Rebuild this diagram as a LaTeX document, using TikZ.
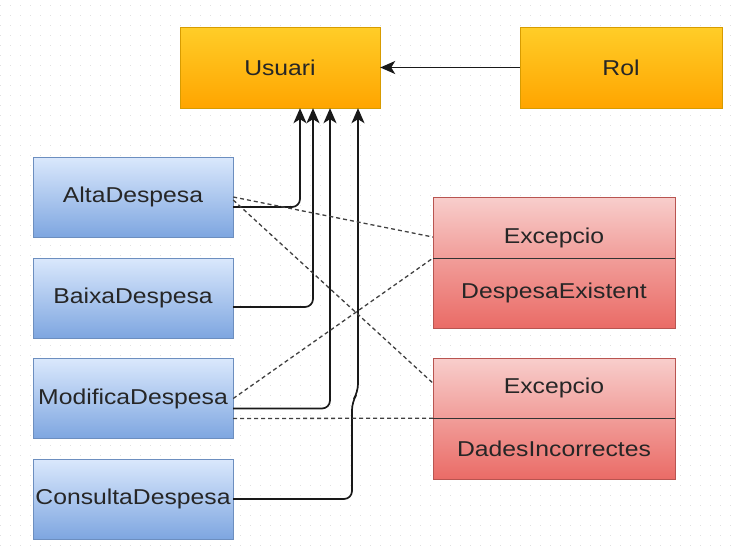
\documentclass[tikz,border=0pt]{standalone}
\usepackage{fontspec}
\newfontfamily\boxfont[FakeStretch=1.15]{Liberation Sans}
\usetikzlibrary{arrows.meta}
\usetikzlibrary{calc}

\definecolor{orTop}{HTML}{FFCD28}
\definecolor{orBot}{HTML}{FFA500}
\definecolor{orLine}{HTML}{D79B00}
\definecolor{blTop}{HTML}{DAE8FC}
\definecolor{blBot}{HTML}{7EA6E0}
\definecolor{blLine}{HTML}{6C8EBF}
\definecolor{rdTop}{HTML}{F8CECC}
\definecolor{rdMid}{HTML}{F19D99}
\definecolor{rdBot}{HTML}{EA6B66}
\definecolor{rdLine}{HTML}{B85450}

\begin{document}
\begin{tikzpicture}[x=1pt,y=-1pt,
	box/.style={rectangle, inner sep=0pt, font=\boxfont\fontsize{21.5}{24}\selectfont, text=black!85},
	rolbox/.style={box, minimum height=81pt, top color=orTop, bottom color=orBot, draw=orLine},
	casbox/.style={box, minimum width=200pt, minimum height=80pt, top color=blTop, bottom color=blBot, draw=blLine},
	exctop/.style={box, minimum width=242pt, top color=rdTop, bottom color=rdMid, draw=rdLine},
	excbot/.style={box, minimum width=242pt, anchor=north, top color=rdMid, bottom color=rdBot, draw=rdLine},
	tip/.style={-{Stealth[length=15pt,width=13pt,inset=4pt]}},
	uses/.style={black!90, line width=1.7pt, tip},
	throws/.style={black!75, line width=1.3pt, dash pattern=on 4pt off 3pt}
]

	\useasboundingbox (0,0) rectangle (731,546);

	%background dot grid
	\foreach \gy in {5,15,...,545}
		\draw[black!12, line width=1pt, dash pattern=on 1pt off 9pt] (0,\gy) -- (731,\gy);

	%user and role
	\node[rolbox, minimum width=200pt] (usuari) at (280,67.5) {Usuari};
	\node[rolbox, minimum width=202pt] (rol) at (621,67.5) {Rol};

	%use cases
	\node[casbox] (alta) at (133,197) {AltaDespesa};
	\node[casbox] (baixa) at (133,298) {BaixaDespesa};
	\node[casbox] (modifica) at (133,398.5) {ModificaDespesa};
	\node[casbox] (consulta) at (133,499) {ConsultaDespesa};

	%exceptions
	\node[exctop, minimum height=61pt, text height=37pt] (exc1top) at (554,227.5) {Excepcio};
	\node[excbot, minimum height=70pt] (exc1bot) at (exc1top.south) {DespesaExistent};
	\node[exctop, minimum height=60pt] (exc2top) at (554,388) {Excepcio};
	\node[excbot, minimum height=61pt] (exc2bot) at (exc2top.south) {DadesIncorrectes};
	\draw[black!80, line width=1.4pt] (exc1top.south west) -- (exc1top.south east);
	\draw[black!80, line width=1.4pt] (exc2top.south west) -- (exc2top.south east);

	%links to Usuari
	\draw[uses] (rol) -- (usuari);
	\coordinate (aup) at ([xshift=20pt]usuari.south);
	\coordinate (bup) at ([xshift=33pt]usuari.south);
	\coordinate (mup) at ([xshift=50pt]usuari.south);
	\coordinate (cup) at ([xshift=78pt]usuari.south);
	\draw[uses] ([yshift=-10pt]alta.east) [rounded corners=8pt] -| ([yshift=-20pt]aup) [sharp corners] -- (aup);
	\draw[uses] ([yshift=-9pt]baixa.east) [rounded corners=8pt] -| ([yshift=-20pt]bup) [sharp corners] -- (bup);
	\draw[uses] ([yshift=-10pt]modifica.east) [rounded corners=8pt] -| ([yshift=-20pt]mup) [sharp corners] -- (mup);
	\coordinate (cjog1) at (352,402);
	\coordinate (cjog2) at (358,392);
	\draw[uses] (consulta.east) [rounded corners=8pt] -| (cjog1) -- (cjog2) -- ([yshift=-20pt]cup) [sharp corners] -- (cup);

	%links to exceptions
	\draw[throws] (alta.east) -- ([yshift=-9.5pt]exc1top.west);
	\draw[throws] ([yshift=-3pt]alta.east) -- ([yshift=5pt]exc2top.west);
	\draw[throws] (modifica.east) -- (exc1top.south west);
	\draw[throws] ([yshift=-20pt]modifica.east) -- (exc2top.south west);

\end{tikzpicture}
\end{document}
